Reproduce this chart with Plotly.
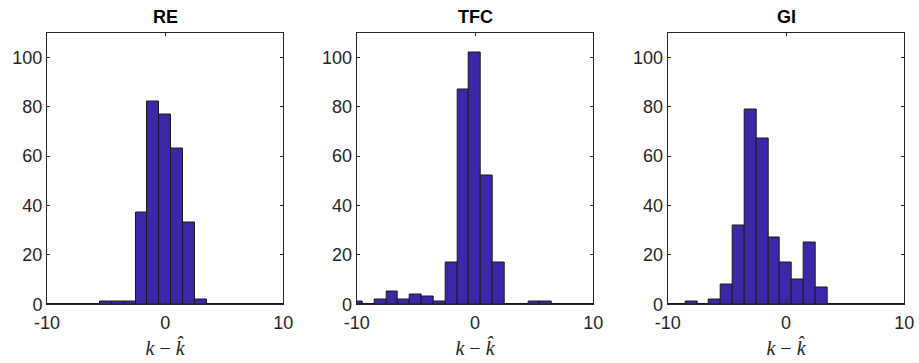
import plotly.graph_objects as go

# bin centers (unit-width bins)
bins = list(range(-10, 11))

titles = ["RE", "TFC", "GI"]

re_counts = {-5: 1, -4: 1, -3: 1, -2: 37, -1: 82, 0: 77, 1: 63, 2: 33, 3: 2}
tfc_counts = {-10: 1, -8: 2, -7: 5, -6: 2, -5: 4, -4: 3, -3: 1, -2: 17, -1: 87,
              0: 102, 1: 52, 2: 17, 5: 1, 6: 1}
gi_counts = {-8: 1, -6: 2, -5: 8, -4: 32, -3: 79, -2: 67, -1: 27, 0: 17,
             1: 10, 2: 25, 3: 7}

re_vals = [re_counts.get(b, 0) for b in bins]
tfc_vals = [tfc_counts.get(b, 0) for b in bins]
gi_vals = [gi_counts.get(b, 0) for b in bins]

x_ticks = [-10, 0, 10]
y_ticks = [0, 20, 40, 60, 80, 100]

series = [re_vals, tfc_vals, gi_vals]

W, H = 919, 363
xdomains = [(47 / W, 283.3 / W), (356.7 / W, 593.3 / W), (667.7 / W, 904.3 / W)]
ydomain = ((H - 304.3) / H, (H - 32.5) / H)

fig = go.Figure()
axcol = "#262626"
fs = 18
layout = dict(
    width=W, height=H, margin=dict(l=0, r=0, t=0, b=0, autoexpand=False),
    paper_bgcolor="white", plot_bgcolor="white", showlegend=False,
    font=dict(family="Liberation Sans, Arial, sans-serif", size=fs, color=axcol),
    bargap=0,
)
annotations = []
for i, (vals, title) in enumerate(zip(series, titles)):
    n = "" if i == 0 else str(i + 1)
    fig.add_trace(go.Bar(
        x=bins, y=vals, width=[1] * len(bins),
        marker=dict(color="rgb(62,38,168)", line=dict(color="#1a1a1a", width=1)),
        xaxis="x" + n, yaxis="y" + n, hoverinfo="skip",
    ))
    layout["xaxis" + n] = dict(
        domain=list(xdomains[i]), range=[-10, 10], anchor="y" + n, automargin=False,
        tickvals=x_ticks, ticktext=[str(v) for v in x_ticks],
        ticks="inside", ticklen=3, tickcolor=axcol, tickwidth=1,
        showline=True, linecolor=axcol, linewidth=1, mirror="ticks",
        showgrid=False, zeroline=False, tickfont=dict(size=fs, color=axcol),
        ticklabelstandoff=2,
        title=dict(text="<i>k</i> − <i>k̂</i>", standoff=9,
                   font=dict(family="Liberation Serif, DejaVu Serif, serif", size=20, color=axcol)),
    )
    layout["yaxis" + n] = dict(
        domain=list(ydomain), range=[0, 110], anchor="x" + n, automargin=False,
        tickvals=y_ticks, ticks="inside", ticklen=3, tickcolor=axcol, tickwidth=1,
        showline=True, linecolor=axcol, linewidth=1, mirror="ticks",
        showgrid=False, zeroline=True, zerolinecolor="#111111", zerolinewidth=2,
        tickfont=dict(size=fs, color=axcol),
    )
    annotations.append(dict(
        text="<b>" + title + "</b>", x=(xdomains[i][0] + xdomains[i][1]) / 2,
        y=ydomain[1], xref="paper", yref="paper", xanchor="center", yanchor="bottom",
        yshift=3, showarrow=False,
        font=dict(family="Liberation Sans, Arial, sans-serif", size=18, color="black"),
    ))
layout["annotations"] = annotations
fig.update_layout(**layout)
fig.write_html("out.html")
